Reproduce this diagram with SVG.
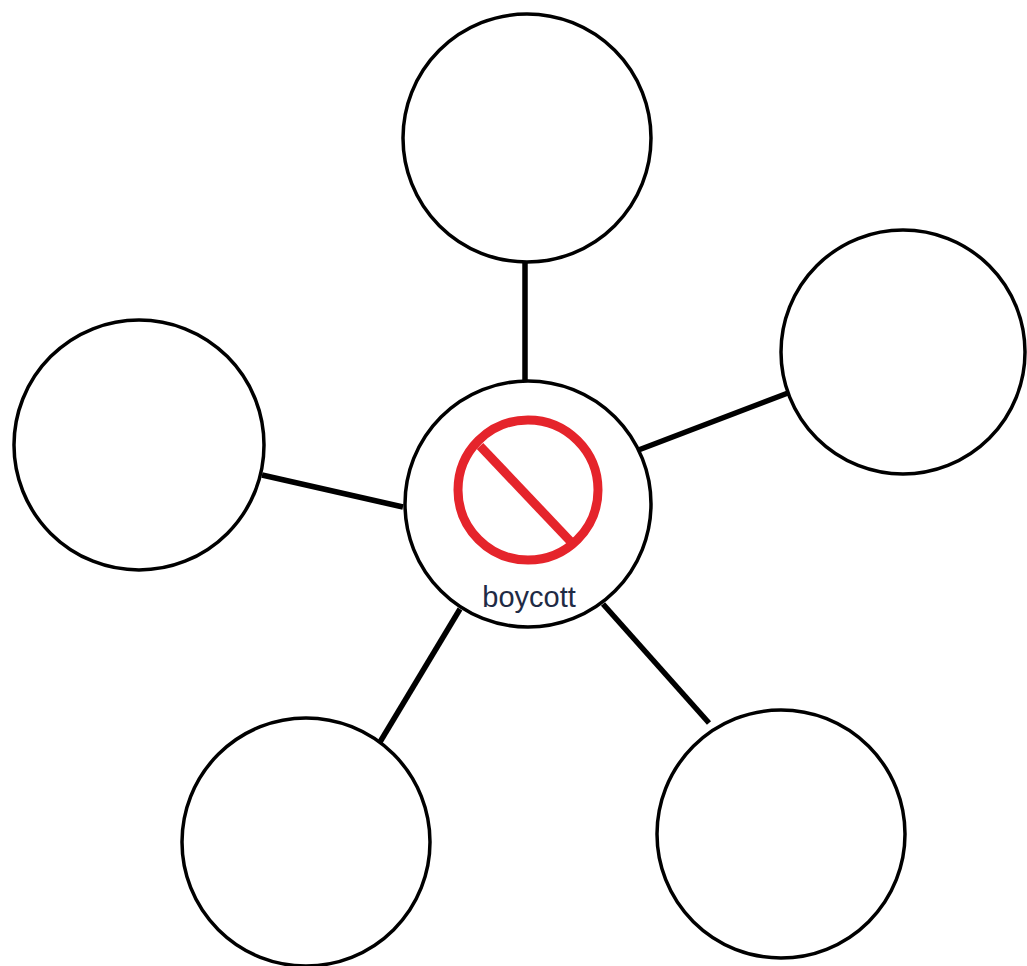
<svg xmlns="http://www.w3.org/2000/svg" width="1027" height="966" viewBox="0 0 1027 966">
<style>
.node{fill:#fff;stroke:#000;stroke-width:3.5}
.edge{stroke:#000;stroke-width:5.5;fill:none}
.lbl{font-family:"Liberation Sans",Arial,sans-serif;font-size:29px;fill:#1f2b45}
.ban{fill:none;stroke:#e5242b;stroke-width:9}
</style>
<rect width="1027" height="966" fill="#fff"/>
<g id="connectors">
<line class="edge" x1="525" y1="262" x2="525" y2="381"/>
<line class="edge" x1="628" y1="454" x2="788" y2="393"/>
<line class="edge" x1="262" y1="475" x2="403" y2="507"/>
<line class="edge" x1="380" y1="742" x2="460" y2="609"/>
<line class="edge" x1="603" y1="604" x2="709" y2="723"/>
</g>
<g id="node-top"><circle class="node" cx="527" cy="138" r="124"/></g>
<g id="node-right"><circle class="node" cx="903" cy="352" r="122"/></g>
<g id="node-left"><circle class="node" cx="139" cy="445" r="125"/></g>
<g id="node-bottom-left"><circle class="node" cx="306" cy="842" r="124"/></g>
<g id="node-bottom-right"><circle class="node" cx="781" cy="834" r="124"/></g>
<g id="node-center">
<circle class="node" cx="528" cy="504" r="123" stroke-width="4"/>
<circle class="ban" cx="528" cy="490" r="70"/>
<line class="ban" x1="480" y1="446" x2="572" y2="543"/>
<text class="lbl" x="529" y="607" text-anchor="middle">boycott</text>
</g>
</svg>
